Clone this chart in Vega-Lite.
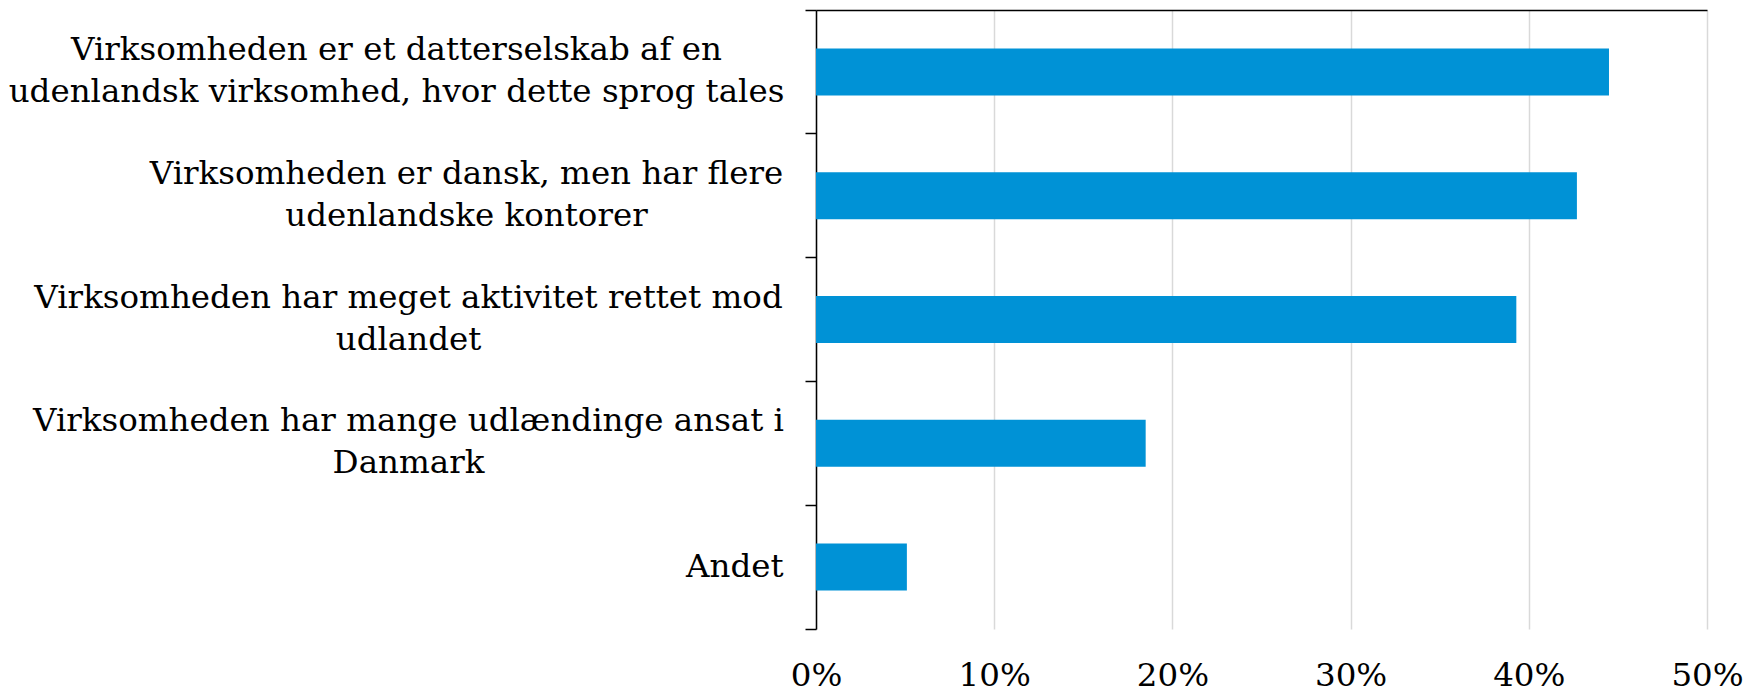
{
  "$schema": "https://vega.github.io/schema/vega-lite/v6.json",
  "autosize": "none",
  "width": 891,
  "height": 619,
  "padding": {"left": 816, "top": 10, "right": 39, "bottom": 64},
  "background": "white",
  "config": {"view": {"stroke": null}, "font": "DejaVu Serif",
    "axis": {"labelFont": "DejaVu Serif", "labelFontSize": 32.5, "labelColor": "#000", "labelLineHeight": 42, "labelLimit": 0, "title": null}},
  "data": {"values": [
    {"label": "Virksomheden er et datterselskab af en|udenlandsk virksomhed, hvor dette sprog tales", "value": 0.445},
    {"label": "Virksomheden er dansk, men har flere|udenlandske kontorer", "value": 0.427},
    {"label": "Virksomheden har meget aktivitet rettet mod|udlandet", "value": 0.393},
    {"label": "Virksomheden har mange udlændinge ansat i|Danmark", "value": 0.185},
    {"label": "Andet", "value": 0.051}
  ]},
  "resolve": {"axis": {"x": "independent", "y": "independent"}},
  "layer": [
    {
      "mark": {"type": "bar", "color": "#0092D6", "height": {"band": 0.38}},
      "encoding": {
        "y": {"field": "label", "type": "nominal", "sort": null,
          "scale": {"paddingInner": 0, "paddingOuter": 0},
          "axis": {"orient": "left", "labelExpr": "datum.value == 'Andet' ? datum.label : ''", "labelAlign": "right",
            "labelBaseline": "middle", "labelPadding": 22,
            "domainColor": "#000", "domainWidth": 1.5, "tickColor": "#000", "tickWidth": 1.5, "tickSize": 11,
            "bandPosition": 1, "tickExtra": true, "grid": false}},
        "x": {"field": "value", "type": "quantitative",
          "scale": {"domain": [0, 0.5], "nice": false},
          "axis": {"format": ".0%", "values": [0, 0.1, 0.2, 0.3, 0.4, 0.5],
            "domain": false, "ticks": false, "grid": true, "gridColor": "#d9d9d9", "gridWidth": 1.5,
            "labelPadding": 30, "labelFlush": false}}
      }
    },
    {
      "mark": {"type": "bar", "opacity": 0},
      "encoding": {
        "y": {"field": "label", "type": "nominal", "sort": null,
          "axis": {"orient": "left", "labelExpr": "indexof(datum.value, 'datterselskab') >= 0 ? split(datum.label, '|') : ''",
            "labelAlign": "center", "labelBaseline": "line-bottom", "labelPadding": 420,
            "domain": false, "ticks": false, "grid": false}},
        "x": {"field": "value", "type": "quantitative",
          "axis": {"orient": "top", "labels": false, "ticks": false, "grid": false,
            "domain": true, "domainColor": "#000", "domainWidth": 1.5}}
      }
    },
    {
      "mark": {"type": "bar", "opacity": 0},
      "encoding": {
        "y": {"field": "label", "type": "nominal", "sort": null,
          "axis": {"orient": "left", "labelExpr": "indexof(datum.value, 'dansk, men') >= 0 ? split(datum.label, '|') : ''",
            "labelAlign": "center", "labelBaseline": "line-bottom", "labelPadding": 350,
            "domain": false, "ticks": false, "grid": false}},
        "x": {"field": "value", "type": "quantitative", "axis": null}
      }
    },
    {
      "mark": {"type": "bar", "opacity": 0},
      "encoding": {
        "y": {"field": "label", "type": "nominal", "sort": null,
          "axis": {"orient": "left", "labelExpr": "(indexof(datum.value, 'aktivitet') >= 0 || indexof(datum.value, 'udlændinge') >= 0) ? split(datum.label, '|') : ''",
            "labelAlign": "center", "labelBaseline": "line-bottom", "labelPadding": 408,
            "domain": false, "ticks": false, "grid": false}},
        "x": {"field": "value", "type": "quantitative", "axis": null}
      }
    }
  ]
}
